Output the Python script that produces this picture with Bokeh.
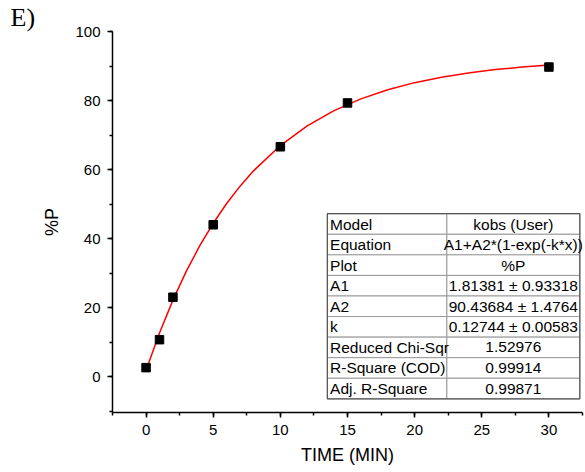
from bokeh.plotting import figure
from bokeh.models import Range1d, SingleIntervalTicker, Title
from bokeh.core.properties import value
from bokeh.embed import file_html
from bokeh.resources import INLINE

# measured data
time_min = [0, 1, 2, 5, 10, 15, 30]
pct_p = [2.6, 10.7, 23.0, 44.0, 66.6, 79.3, 89.7]

# fitted curve
fit_x = [0, 1, 2, 3, 4, 5, 6, 7, 8, 10, 12, 14, 16, 18, 20, 22, 24, 26, 28, 30]
fit_y = [1.81, 12.64, 22.16, 30.55, 37.93, 44.43, 50.15, 55.19, 59.62, 66.96,
         72.65, 77.06, 80.48, 83.13, 85.18, 86.77, 88.00, 88.96, 89.70, 90.27]

# fit report table
table_labels = ["Model", "Equation", "Plot", "A1", "A2", "k",
                "Reduced Chi-Sqr", "R-Square (COD)", "Adj. R-Square"]
table_values = ["kobs (User)", "A1+A2*(1-exp(-k*x))", "%P",
                "1.81381 \u00b1 0.93318", "90.43684 \u00b1 1.4764",
                "0.12744 \u00b1 0.00583", "1.52976", "0.99914", "0.99871"]

FONT = "Liberation Sans"

p = figure(width=585, height=472, output_backend="svg", toolbar_location=None,
           x_range=Range1d(-2.5, 32.5), y_range=Range1d(-10.4, 100),
           min_border_left=112, min_border_right=3, min_border_top=31,
           min_border_bottom=60)
p.outline_line_color = None
p.xgrid.visible = False
p.ygrid.visible = False
p.background_fill_color = "white"
p.border_fill_color = "white"

p.title = Title(text="E)", text_font="Liberation Serif", text_font_size="26px",
                text_font_style="normal", text_color="black", align="left",
                offset=-102, standoff=0)

p.xaxis.ticker = SingleIntervalTicker(interval=5, num_minor_ticks=2)
p.yaxis.ticker = SingleIntervalTicker(interval=20, num_minor_ticks=2)
for ax in (p.xaxis, p.yaxis):
    ax.axis_line_width = 1.5
    ax.axis_line_color = "black"
    ax.major_tick_line_width = 1.5
    ax.minor_tick_line_width = 1.5
    ax.major_tick_line_color = "black"
    ax.minor_tick_line_color = "black"
    ax.major_tick_in = 0
    ax.major_tick_out = 5
    ax.minor_tick_in = 0
    ax.minor_tick_out = 3
    ax.major_label_text_font = FONT
    ax.major_label_text_font_size = "15px"
    ax.major_label_text_color = "black"
    ax.axis_label_text_font = FONT
    ax.axis_label_text_font_size = "18px"
    ax.axis_label_text_font_style = "normal"
    ax.axis_label_text_color = "black"
p.xaxis.axis_label = "TIME (MIN)"
p.yaxis.axis_label = "%P"
p.xaxis.major_label_standoff = 7
p.yaxis.major_label_standoff = 7
p.xaxis.axis_label_standoff = 7
p.yaxis.axis_label_standoff = 10

p.line(fit_x, fit_y, line_color="red", line_width=1.5)
p.scatter(time_min, pct_p, marker="square", size=8.5, fill_color="black",
          line_color="black")

# table (annotation, positioned in data units)
tx0, tdiv, tx1 = 13.5, 22.4, 32.3
ytop, rh = 47.2, 5.96
n = len(table_labels)
tops = [ytop - i * rh for i in range(n)]
bots = [t - rh for t in tops]
mids = [t - rh / 2 for t in tops]
p.quad(left=[tx0] * n, right=[tdiv] * n, top=tops, bottom=bots,
       fill_color="white", line_color="#9a9a9a", line_width=1)
p.quad(left=[tdiv] * n, right=[tx1] * n, top=tops, bottom=bots,
       fill_color="white", line_color="#9a9a9a", line_width=1)
p.quad(left=[tx0], right=[tx1], top=[ytop], bottom=[bots[-1]],
       fill_color=None, line_color="#555555", line_width=1.2)
p.text(x=[tx0 + 0.2] * n, y=mids, text=table_labels, text_font=value(FONT),
       text_font_size="15.5px", text_baseline="middle", text_align="left",
       text_color="black")
p.text(x=[(tdiv + tx1) / 2] * n, y=mids, text=table_values, text_font=value(FONT),
       text_font_size="15.5px", text_baseline="middle", text_align="center",
       text_color="black")

open("out.html", "w").write(file_html(p, INLINE))
